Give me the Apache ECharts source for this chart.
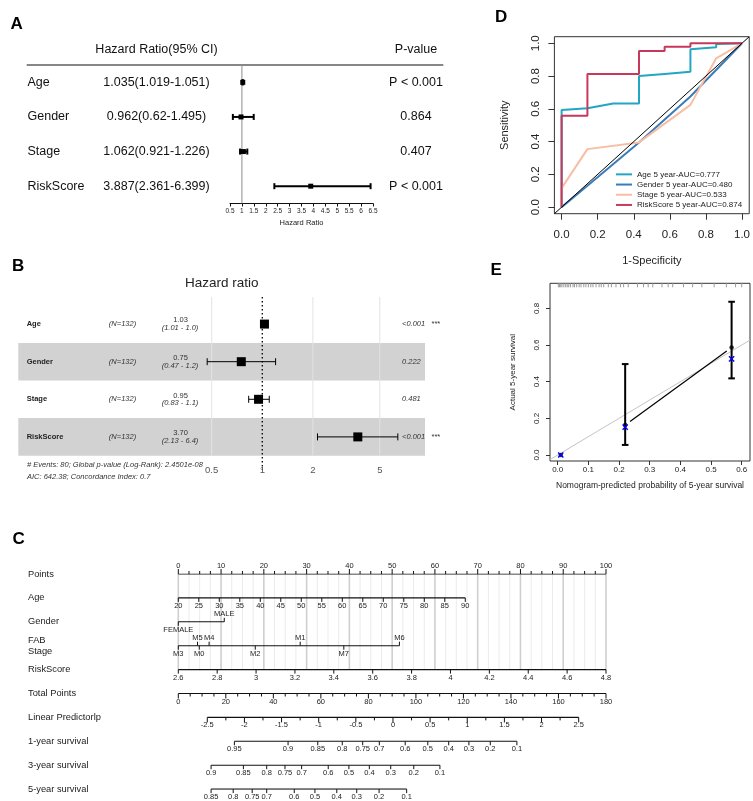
<!DOCTYPE html>
<html><head><meta charset="utf-8">
<script src="https://cdn.jsdelivr.net/npm/echarts@6/dist/echarts.min.js"></script>
<style>html,body{margin:0;padding:0;background:#fff}#c{width:753px;height:801px}</style>
</head><body><div id="c"></div>
<script>
// ================= DATA =================
// Panel A : multivariate forest table
const aVars = ['Age','Gender','Stage','RiskScore'];
const aHR = [1.035, 0.962, 1.062, 3.887];
const aLow = [1.019, 0.62, 0.921, 2.361];
const aHigh = [1.051, 1.495, 1.226, 6.399];
const aHRText = ['1.035(1.019-1.051)','0.962(0.62-1.495)','1.062(0.921-1.226)','3.887(2.361-6.399)'];
const aPText = ['P < 0.001','0.864','0.407','P < 0.001'];
const aRefHR = 1;

// Panel B : ggforest
const bVars = ['Age','Gender','Stage','RiskScore'];
const bN = ['(N=132)','(N=132)','(N=132)','(N=132)'];
const bHR = [1.03, 0.75, 0.95, 3.70];
const bLow = [1.01, 0.47, 0.83, 2.13];
const bHigh = [1.05, 1.2, 1.1, 6.4];
const bHRText = ['1.03','0.75','0.95','3.70'];
const bCIText = ['(1.01 - 1.0)','(0.47 - 1.2)','(0.83 - 1.1)','(2.13 - 6.4)'];
const bPText = ['<0.001','0.222','0.481','<0.001'];
const bStars = ['***','','','***'];
const bTicks = [0.5, 1, 2, 5];
const bNote1 = '# Events: 80; Global p-value (Log-Rank): 2.4501e-08';
const bNote2 = 'AIC: 642.38; Concordance Index: 0.7';

// Panel D : ROC curves
const rocNames = ['Age 5 year-AUC=0.777','Gender 5 year-AUC=0.480','Stage 5 year-AUC=0.533','RiskScore 5 year-AUC=0.874'];
const rocAgeX = [0,0,0.143,0.286,0.429,0.429,0.571,0.714,0.714,0.857,0.857,1];
const rocAgeY = [0,0.593,0.603,0.633,0.633,0.800,0.813,0.826,0.963,0.976,0.995,1];
const rocGenderX = [0,0.143,0.429,0.714,1];
const rocGenderY = [0,0.13,0.395,0.675,1];
const rocStageX = [0,0,0.143,0.429,0.714,0.857,1];
const rocStageY = [0,0.116,0.354,0.395,0.624,0.908,1];
const rocRiskX = [0,0,0.143,0.143,0.429,0.429,0.571,0.571,0.714,0.714,1];
const rocRiskY = [0,0.557,0.557,0.812,0.812,0.953,0.953,0.979,0.979,1,1];
const rocTicks = [0,0.2,0.4,0.6,0.8,1];

// Panel E : calibration
const calPred = [0.01, 0.22, 0.567];
const calObs = [0.0, 0.164, 0.587];
const calLow = [0.0, 0.055, 0.418];
const calHigh = [0.0, 0.496, 0.836];
const calCorrected = [0.0, 0.152, 0.524];
const calRug = [0.002,0.006,0.01,0.014,0.02,0.026,0.031,0.036,0.042,0.05,0.055,0.062,0.07,0.076,0.085,0.092,0.1,0.108,0.115,0.125,0.135,0.142,0.15,0.165,0.175,0.19,0.205,0.215,0.23,0.26,0.28,0.295,0.31,0.34,0.36,0.375,0.41,0.44,0.47,0.51,0.55,0.58,0.6];
const calXTicks = [0,0.1,0.2,0.3,0.4,0.5,0.6];
const calYTicks = [0,0.2,0.4,0.6,0.8];

// Panel C : nomogram
const nomoNames = ['Points','Age','Gender','FAB','Stage','RiskScore','Total Points','Linear Predictorlp','1-year survival','3-year survival','5-year survival'];
const pointsLabels = [0,10,20,30,40,50,60,70,80,90,100];
const pointsMinorStep = 2.5;
const ageLabels = [20,25,30,35,40,45,50,55,60,65,70,75,80,85,90];
const ageMaxPoints = 67.1;           // points given to age 90
const genderCats = ['FEMALE','MALE'];
const genderPoints = [0, 10.75];
const stageCats = ['M3','M5','M0','M4','M2','M1','M7','M6'];
const stagePoints = [0, 4.5, 4.9, 7.2, 18.0, 28.5, 38.7, 51.7];
const stageUp = [false, true, false, true, false, true, false, true];
const riskLabels = [2.6,2.8,3,3.2,3.4,3.6,3.8,4,4.2,4.4,4.6,4.8];
const totalLabels = [0,20,40,60,80,100,120,140,160,180];
const totalMinorStep = 5;
const lpLabels = [-2.5,-2,-1.5,-1,-0.5,0,0.5,1,1.5,2,2.5];
const lpMinorStep = 0.25;
const lpTotalAtEnds = [12.2, 168.5];  // total points at lp -2.5 and 2.5
const surv1Labels = ['0.95','0.9','0.85','0.8','0.75','0.7','0.6','0.5','0.4','0.3','0.2','0.1'];
const surv1Total = [23.6,46.2,58.7,69.0,77.6,84.6,95.5,105.0,113.8,122.3,131.3,142.5];
const surv3Labels = ['0.9','0.85','0.8','0.75','0.7','0.6','0.5','0.4','0.3','0.2','0.1'];
const surv3Total = [13.8,27.4,37.2,44.9,51.9,63.1,71.8,80.4,89.4,99.1,110.1];
const surv5Labels = ['0.85','0.8','0.75','0.7','0.6','0.5','0.4','0.3','0.2','0.1'];
const surv5Total = [13.8,23.1,31.1,37.2,48.8,57.5,66.7,75.1,84.5,96.1];

// ================= HELPERS =================
const FF = '"Liberation Sans", Arial, Helvetica, sans-serif';
function T(x, y, text, o) {
  o = o || {};
  return {type:'text', x:x, y:y, rotation:o.rot||0, silent:true, z2: 10,
    style:{text:text, fill:o.color||'#000', fontSize:o.size||10, fontFamily:FF,
      fontWeight:o.weight||'normal', fontStyle:o.style||'normal',
      align:o.align||'left', verticalAlign:o.va||'middle'}};
}
function L(x1,y1,x2,y2,color,w,dash){
  const s = {stroke:color||'#000', lineWidth:w||1};
  if (dash) s.lineDash = dash;
  return {type:'line', silent:true, shape:{x1:x1,y1:y1,x2:x2,y2:y2}, style:s};
}
const zip = (a,b) => a.map((v,i)=>[v,b[i]]);

const series = [];

// ================= PANEL A =================
series.push({type:'custom', xAxisIndex:0, yAxisIndex:0, data:[[aRefHR,0]],
  renderItem:(p,api)=>{
    const a = api.coord([api.value(0),0]), b = api.coord([api.value(0),4]);
    return L(a[0],a[1],b[0],b[1],'#8c8c8c',1);
  }});
series.push({type:'custom', xAxisIndex:0, yAxisIndex:0,
  data: aVars.map((v,i)=>[aHR[i], aLow[i], aHigh[i], i+0.5]),
  renderItem:(p,api)=>{
    const r = api.value(3);
    const c = api.coord([api.value(0), r]);
    const xl = api.coord([api.value(1), r])[0], xh = api.coord([api.value(2), r])[0];
    const y = c[1];
    return {type:'group', children:[
      L(xl,y,xh,y,'#000',2), L(xl,y-3,xl,y+3,'#000',2), L(xh,y-3,xh,y+3,'#000',2),
      {type:'rect', shape:{x:c[0]-2.5,y:y-2.5,width:5,height:5}, style:{fill:'#000'}}
    ]};
  }});
series.push({type:'custom', xAxisIndex:0, yAxisIndex:0,
  data: aVars.map((v,i)=>[1, i+0.5, i]),
  renderItem:(p,api)=>{
    const i = api.value(2);
    const y = api.coord([1, api.value(1)])[1];
    return {type:'group', children:[
      T(27.5, y, aVars[i], {size:12.5, color:'#111'}),
      T(156.5, y, aHRText[i], {size:12.5, align:'center', color:'#111'}),
      T(416, y, aPText[i], {size:12.5, align:'center', color:'#111'})
    ]};
  }});

// ================= PANEL B =================
const bYMin = -0.22, bYMax = 4.38, bBandEnd = 4;
series.push({type:'custom', xAxisIndex:1, yAxisIndex:1, z:0,
  data: bVars.map((v,i)=>[1,i]).filter(d=>d[1]%2===1),
  renderItem:(p,api)=>{
    const y0 = api.coord([1, api.value(1)])[1], y1 = api.coord([1, api.value(1)+1])[1];
    return {type:'rect', shape:{x:18.3,y:y0,width:406.7,height:y1-y0}, style:{fill:'#d2d2d2'}};
  }});
series.push({type:'custom', xAxisIndex:1, yAxisIndex:1, z:1,
  data: bTicks.map(v=>[v,0]),
  renderItem:(p,api)=>{
    const v = api.value(0);
    const a = api.coord([v,bYMin]);
    const ch = [];
    if (v === 1) {
      const b = api.coord([v,bYMax]);
      ch.push(L(a[0],a[1],b[0],b[1],'#000',1.3,[1.5,2.5]));
    } else {
      const b = api.coord([v,bBandEnd]);
      ch.push(L(a[0],a[1],b[0],b[1],'#e3e3e3',1));
    }
    const lab = api.coord([v,bYMax]);
    ch.push(T(lab[0], lab[1], String(v), {size:9.5, align:'center', color:'#555'}));
    return {type:'group', children:ch};
  }});
series.push({type:'custom', xAxisIndex:1, yAxisIndex:1, z:2,
  data: bVars.map((v,i)=>[bHR[i], bLow[i], bHigh[i], i+0.5]),
  renderItem:(p,api)=>{
    const r = api.value(3);
    const c = api.coord([api.value(0), r]);
    const xl = api.coord([api.value(1), r])[0], xh = api.coord([api.value(2), r])[0];
    const y = c[1];
    return {type:'group', children:[
      L(xl,y,xh,y,'#000',1), L(xl,y-3.5,xl,y+3.5,'#000',1), L(xh,y-3.5,xh,y+3.5,'#000',1),
      {type:'rect', shape:{x:c[0]-4.5,y:y-4.5,width:9,height:9}, style:{fill:'#000'}}
    ]};
  }});
series.push({type:'custom', xAxisIndex:1, yAxisIndex:1, z:3,
  data: bVars.map((v,i)=>[1, i+0.5, i]),
  renderItem:(p,api)=>{
    const i = api.value(2);
    const y = api.coord([1, api.value(1)])[1];
    return {type:'group', children:[
      T(26.7, y, bVars[i], {size:7.5, weight:'bold', color:'#222'}),
      T(122.5, y, bN[i], {size:7.5, style:'italic', align:'center', color:'#333'}),
      T(180.5, y-3.8, bHRText[i], {size:7.5, align:'center', color:'#333'}),
      T(180, y+3.8, bCIText[i], {size:7.5, style:'italic', align:'center', color:'#333'}),
      T(402, y, bPText[i], {size:7.5, style:'italic', color:'#333'}),
      T(431.5, y, bStars[i], {size:7.5, color:'#333'})
    ]};
  }});

// ================= PANEL D =================
const rocCols = ['#22a6c3','#3b7cb8','#f8bea4','#c8385c'];
const rocX = [rocAgeX, rocGenderX, rocStageX, rocRiskX];
const rocY = [rocAgeY, rocGenderY, rocStageY, rocRiskY];
rocNames.forEach((n,k)=>{
  series.push({type:'line', name:n, xAxisIndex:2, yAxisIndex:2, data: zip(rocX[k], rocY[k]),
    symbol:'none', showSymbol:false, z:3+k,
    lineStyle:{color:rocCols[k], width:2}, itemStyle:{color:rocCols[k]}});
});
series.push({type:'line', xAxisIndex:2, yAxisIndex:2, data:[[-0.04,-0.04],[1.04,1.04]],
  symbol:'none', z:8, lineStyle:{color:'#000', width:1}});

// ================= PANEL E =================
const eX = [-0.0251, 0.627], eY = [-0.0327, 0.9367];
series.push({type:'line', xAxisIndex:3, yAxisIndex:3, data:[[eX[0],eX[0]],[eX[1],eX[1]]],
  symbol:'none', z:1, lineStyle:{color:'#c4c4c4', width:1}});
series.push({type:'custom', xAxisIndex:3, yAxisIndex:3, z:1,
  data: calRug.map(v=>[v, eY[1]]),
  renderItem:(p,api)=>{
    const a = api.coord([api.value(0), api.value(1)]);
    return L(a[0],a[1],a[0],a[1]+4,'#9a9a9a',1);
  }});
series.push({type:'custom', xAxisIndex:3, yAxisIndex:3, z:2,
  data: calPred.map((x,i)=>[x, calLow[i], calHigh[i]]).filter(d=>d[2]>d[1]),
  renderItem:(p,api)=>{
    const a = api.coord([api.value(0), api.value(1)]), b = api.coord([api.value(0), api.value(2)]);
    return {type:'group', children:[
      L(a[0],a[1],b[0],b[1],'#000',2), L(a[0]-3.3,a[1],a[0]+3.3,a[1],'#000',2), L(b[0]-3.3,b[1],b[0]+3.3,b[1],'#000',2)
    ]};
  }});
series.push({type:'custom', xAxisIndex:3, yAxisIndex:3, z:3,
  data: calPred.map((x,i)=>[x, calObs[i], i]).filter(d=>d[2]>=1 && d[2]<calPred.length-1),
  renderItem:(p,api)=>{
    const i = api.value(2);
    const a = api.coord([calPred[i], calObs[i]]), b = api.coord([calPred[i+1], calObs[i+1]]);
    const dx = b[0]-a[0], dy = b[1]-a[1], len = Math.hypot(dx,dy), g = 6/len;
    return L(a[0]+dx*g, a[1]+dy*g, b[0]-dx*g, b[1]-dy*g, '#000', 1.2);
  }});
series.push({type:'scatter', xAxisIndex:3, yAxisIndex:3, z:4, data: zip(calPred, calObs),
  symbol:'circle', symbolSize:4.5, itemStyle:{color:'#000'}});
series.push({type:'custom', xAxisIndex:3, yAxisIndex:3, z:5, data: zip(calPred, calCorrected),
  renderItem:(p,api)=>{
    const a = api.coord([api.value(0), api.value(1)]), s = 2.6;
    return {type:'group', children:[
      L(a[0]-s,a[1]-s,a[0]+s,a[1]+s,'#0000ee',1.4), L(a[0]-s,a[1]+s,a[0]+s,a[1]-s,'#0000ee',1.4)
    ]};
  }});

// ================= PANEL C (nomogram) =================
const gridPts = [];
for (let v = pointsLabels[0]; v <= pointsLabels[pointsLabels.length-1] + 1e-9; v += pointsMinorStep) gridPts.push(v);
series.push({type:'custom', xAxisIndex:4, yAxisIndex:4, z:0, data: gridPts.map(v=>[v,0]),
  renderItem:(p,api)=>{
    const v = api.value(0);
    const a = api.coord([v,0]), b = api.coord([v,4]);
    const major = Math.abs(v/10 - Math.round(v/10)) < 1e-6;
    return L(a[0],a[1],b[0],b[1], major ? '#cfcfcf' : '#ebebeb', major ? 1.6 : 1);
  }});
function baseline(xi, row, from, to){
  series.push({type:'line', xAxisIndex:xi, yAxisIndex:4, data:[[from,row],[to,row]], symbol:'none', z:2,
    lineStyle:{color:'#111', width:1.1}});
}
function ticks(xi, row, items){ // items: {v, dir, len, label}
  series.push({type:'custom', xAxisIndex:xi, yAxisIndex:4, z:3, data: items.map((t,i)=>[t.v,row,i]),
    renderItem:(p,api)=>{
      const t = items[api.value(2)];
      const a = api.coord([api.value(0), api.value(1)]);
      const ch = [L(a[0],a[1],a[0],a[1]+t.dir*t.len,'#111',1)];
      if (t.label != null) ch.push(T(a[0], a[1]+t.dir*8, t.label, {size:7.5, align:'center', color:'#222'}));
      return {type:'group', children:ch};
    }});
}
function withMinor(labels, step, dir, fmt){
  const out = [];
  const lo = labels[0], hi = labels[labels.length-1];
  const n = Math.round((hi-lo)/step);
  for (let k=0;k<=n;k++){
    const v = +(lo + k*step).toFixed(6);
    const isMajor = labels.some(l=>Math.abs(l-v)<1e-6);
    out.push({v:v, dir:dir, len: isMajor?5:3, label: isMajor ? (fmt?fmt(v):String(v)) : null});
  }
  return out;
}
baseline(4, 0, pointsLabels[0], pointsLabels[pointsLabels.length-1]);
ticks(4, 0, withMinor(pointsLabels, pointsMinorStep, -1));
baseline(5, 1, ageLabels[0], ageLabels[ageLabels.length-1]);
ticks(5, 1, ageLabels.map(v=>({v:v, dir:1, len:4, label:String(v)})));
baseline(4, 2, Math.min(...genderPoints), Math.max(...genderPoints));
ticks(4, 2, genderCats.map((c,i)=>({v:genderPoints[i], dir: i===1?-1:1, len:4, label:c})));
baseline(4, 3, Math.min(...stagePoints), Math.max(...stagePoints));
ticks(4, 3, stageCats.map((c,i)=>({v:stagePoints[i], dir: stageUp[i]?-1:1, len:4, label:c})));
baseline(6, 4, riskLabels[0], riskLabels[riskLabels.length-1]);
ticks(6, 4, riskLabels.map(v=>({v:v, dir:1, len:4, label:String(v)})));
baseline(7, 5, totalLabels[0], totalLabels[totalLabels.length-1]);
ticks(7, 5, withMinor(totalLabels, totalMinorStep, 1));
baseline(8, 6, lpLabels[0], lpLabels[lpLabels.length-1]);
ticks(8, 6, withMinor(lpLabels, lpMinorStep, 1));
[[surv1Labels, surv1Total, 7],[surv3Labels, surv3Total, 8],[surv5Labels, surv5Total, 9]].forEach(s=>{
  baseline(7, s[2], s[1][0], s[1][s[1].length-1]);
  ticks(7, s[2], s[0].map((l,i)=>({v:s[1][i], dir:1, len:4, label:l})));
});
const nameRow = [0,1,2,2.76,3.25,4,5,6,7,8,9];
series.push({type:'custom', xAxisIndex:4, yAxisIndex:4, z:3, data: nomoNames.map((n,i)=>[0, nameRow[i], i]),
  renderItem:(p,api)=>{
    const y = api.coord([0, api.value(1)])[1];
    return T(28, y, nomoNames[api.value(2)], {size:9.3, color:'#222'});
  }});

const lpPerTotal = (lpLabels[lpLabels.length-1]-lpLabels[0])/(lpTotalAtEnds[1]-lpTotalAtEnds[0]);
const lpMin = lpLabels[0] - lpTotalAtEnds[0]*lpPerTotal;
const lpMax = lpLabels[lpLabels.length-1] + (180-lpTotalAtEnds[1])*lpPerTotal;
const ageMax = ageLabels[0] + (ageLabels[ageLabels.length-1]-ageLabels[0]) * 100/ageMaxPoints;

const f1 = v => v.toFixed(1);
const option = {
  animation:false,
  backgroundColor:'#fff',
  textStyle:{fontFamily:FF},
  grid:[
    {left:230, top:65, width:143, height:138.5},
    {left:200, top:297, width:220, height:173},
    {left:554.4, top:36.7, width:197.9, height:177, show:true, borderColor:'#333', borderWidth:1, backgroundColor:'transparent'},
    {left:550, top:283.3, width:200, height:177.7, show:true, borderColor:'#333', borderWidth:1, backgroundColor:'transparent'},
    {left:178.3, top:574, width:427.7, height:215.1}
  ],
  xAxis:[
    {gridIndex:0, type:'value', min:0.5, max:6.5, interval:0.5, position:'bottom',
      axisLine:{show:true, onZero:false, lineStyle:{color:'#111', width:1}},
      axisTick:{show:true, inside:false, length:3, lineStyle:{color:'#111'}},
      axisLabel:{fontSize:6.5, color:'#222', margin:4, fontFamily:FF},
      splitLine:{show:false},
      name:'Hazard Ratio', nameLocation:'middle', nameGap:15, nameTextStyle:{fontSize:7.5, color:'#222', fontFamily:FF}},
    {gridIndex:1, type:'log', min:0.426, max:8.673, show:false},
    {gridIndex:2, type:'value', min:-0.04, max:1.04, position:'bottom',
      axisLine:{show:false, onZero:false}, splitLine:{show:false},
      axisTick:{show:true, inside:false, length:6, customValues:rocTicks, lineStyle:{color:'#333'}},
      axisLabel:{customValues:rocTicks, inside:false, formatter:f1, fontSize:11.5, margin:15, color:'#222', fontFamily:FF},
      name:'1-Specificity', nameLocation:'middle', nameGap:42, nameTextStyle:{fontSize:11, color:'#222', fontFamily:FF}},
    {gridIndex:3, type:'value', min:eX[0], max:eX[1], position:'bottom',
      axisLine:{show:false, onZero:false}, splitLine:{show:false},
      axisTick:{show:true, inside:false, length:4, customValues:calXTicks, lineStyle:{color:'#333'}},
      axisLabel:{customValues:calXTicks, inside:false, formatter:f1, fontSize:8, margin:5, color:'#222', fontFamily:FF},
      name:'Nomogram-predicted probability of 5-year survival', nameLocation:'middle', nameGap:20,
      nameTextStyle:{fontSize:8.5, color:'#222', fontFamily:FF}},
    {gridIndex:4, type:'value', min:0, max:100, show:false},
    {gridIndex:4, type:'value', min:ageLabels[0], max:ageMax, show:false},
    {gridIndex:4, type:'value', min:riskLabels[0], max:riskLabels[riskLabels.length-1], show:false},
    {gridIndex:4, type:'value', min:0, max:180, show:false},
    {gridIndex:4, type:'value', min:lpMin, max:lpMax, show:false}
  ],
  yAxis:[
    {gridIndex:0, type:'value', min:0, max:4, inverse:true, show:false},
    {gridIndex:1, type:'value', min:bYMin, max:bYMax, inverse:true, show:false},
    {gridIndex:2, type:'value', min:-0.04, max:1.04, position:'left',
      axisLine:{show:false, onZero:false}, splitLine:{show:false},
      axisTick:{show:true, inside:false, length:6, customValues:rocTicks, lineStyle:{color:'#333'}},
      axisLabel:{customValues:rocTicks, inside:false, formatter:f1, rotate:90, fontSize:11.5, margin:13, color:'#222', fontFamily:FF},
      name:'Sensitivity', nameLocation:'middle', nameRotate:90, nameGap:44, nameTextStyle:{fontSize:11, color:'#222', fontFamily:FF}},
    {gridIndex:3, type:'value', min:eY[0], max:eY[1], position:'left',
      axisLine:{show:false, onZero:false}, splitLine:{show:false},
      axisTick:{show:true, inside:false, length:4, customValues:calYTicks, lineStyle:{color:'#333'}},
      axisLabel:{customValues:calYTicks, inside:false, formatter:f1, rotate:90, fontSize:8, margin:9, color:'#222', fontFamily:FF},
      name:'Actual 5-year survival', nameLocation:'middle', nameRotate:90, nameGap:33, nameTextStyle:{fontSize:8, color:'#222', fontFamily:FF}},
    {gridIndex:4, type:'value', min:0, max:9, inverse:true, show:false}
  ],
  legend:{data:rocNames, orient:'vertical', left:616, top:169.5, padding:0, itemGap:0.5,
    icon:'rect', itemWidth:16, itemHeight:2, selectedMode:false,
    textStyle:{fontSize:8, color:'#222', fontFamily:FF, lineHeight:9.7}},
  graphic:[
    T(10.5, 24.5, 'A', {size:17, weight:'bold'}),
    T(12, 266, 'B', {size:17, weight:'bold'}),
    T(12.5, 539, 'C', {size:17, weight:'bold'}),
    T(495, 17, 'D', {size:17, weight:'bold'}),
    T(490.5, 270.5, 'E', {size:17, weight:'bold'}),
    T(156.5, 49.3, 'Hazard Ratio(95% CI)', {size:12.5, align:'center', color:'#111'}),
    T(416, 49.3, 'P-value', {size:12.5, align:'center', color:'#111'}),
    L(26.7, 65, 443.3, 65, '#111', 1.2),
    T(221.7, 283.3, 'Hazard ratio', {size:13.5, align:'center', color:'#222'}),
    T(27, 465, bNote1, {size:7.5, style:'italic', color:'#333'}),
    T(27, 477, bNote2, {size:7.5, style:'italic', color:'#333'})
  ],
  series: series
};
const chart = echarts.init(document.getElementById('c'), null, {renderer:'canvas', width:753, height:801});
chart.setOption(option);
</script></body></html>
